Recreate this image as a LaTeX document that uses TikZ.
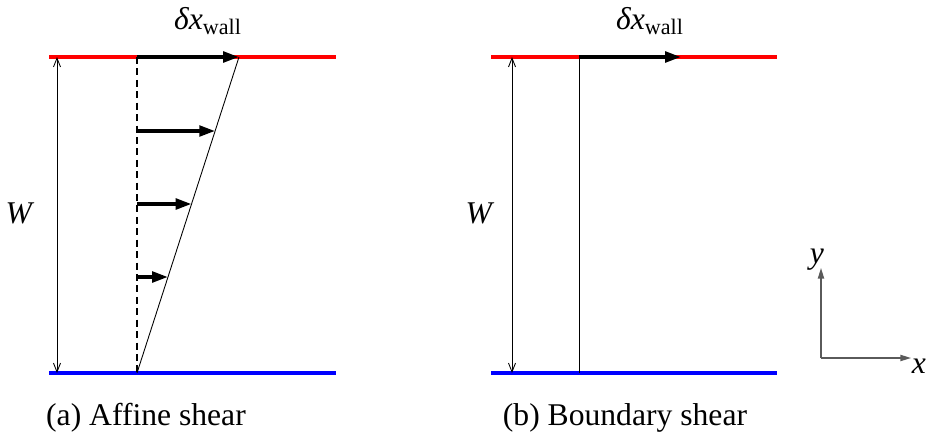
\documentclass[tikz,border=0pt]{standalone}
\usepackage{fontspec}
\setmainfont{Liberation Serif}
\usetikzlibrary{arrows.meta,positioning,calc}
\definecolor{wallred}{RGB}{255,0,0}
\definecolor{wallblue}{RGB}{0,0,255}
\definecolor{axisgray}{RGB}{90,90,90}
\newcommand{\shiftlabel}{\textit{δx}\textsubscript{wall}}

\begin{document}
\begin{tikzpicture}[
    x=0.02cm, y=-0.02cm,
    every node/.style={font=\fontsize{18}{22}\selectfont},
    wall/.style={line width=2pt},
    shiftarrow/.style={-{Triangle[length=9pt,width=6pt]}, line width=2pt},
    gap/.style={{Straight Barb[length=5pt,width=4pt]}-{Straight Barb[length=5pt,width=4pt]}, line width=0.5pt},
    axisline/.style={-{Triangle[length=6pt,width=3.5pt]}, line width=0.8pt, axisgray}
]
\useasboundingbox (0,0) rectangle (927,443);

% (a) Affine shear
\draw[wall, wallred]  (49,57)  -- (336,57);
\draw[wall, wallblue] (49,373) -- (336,373);
\coordinate (aTop) at (57,57);
\coordinate (aBot) at (57,373);
\draw[gap] (aTop) -- (aBot);
\node (aW) at (20,213) {\textit{W}};
\coordinate (aBase) at (137,373);
\coordinate (aOrig) at (137,57);
\coordinate (aTip) at (239,57);
\draw[dashed, dash pattern=on 4pt off 2.5pt, line width=0.8pt] (aOrig) -- (aBase);
\draw[line width=0.5pt] (aBase) -- (aTip);
\draw[shiftarrow] (aOrig) -- (aTip);
\foreach \yy in {131,204,277} {
    \draw[shiftarrow] (137,\yy) -- ($(aBase)!{(373-\yy)/316}!(aTip)$);
}
\node (aShift) at (208,21) {\shiftlabel};
\node (aCap) at (146,418) {(a) Affine shear};

% (b) Boundary shear
\draw[wall, wallred]  (491,57)  -- (777,57);
\draw[wall, wallblue] (491,373) -- (777,373);
\coordinate (bTop) at (512,57);
\coordinate (bBot) at (512,373);
\draw[gap] (bTop) -- (bBot);
\node (bW) at (480,213) {\textit{W}};
\coordinate (bBase) at (579,373);
\coordinate (bOrig) at (579,57);
\coordinate (bTip) at (681,57);
\draw[line width=0.5pt] (bOrig) -- (bBase);
\draw[shiftarrow] (bOrig) -- (bTip);
\node (bShift) at (650,21) {\shiftlabel};
\node (bCap) at (625,418) {(b) Boundary shear};

% axes
\coordinate (origin) at (821,358);
\coordinate (yEnd) at (821,268);
\coordinate (xEnd) at (911,358);
\draw[axisline] (origin) -- (yEnd);
\draw[axisline] (origin) -- (xEnd);
\node (yLab) at (817,260) {\textit{y}};
\node (xLab) at (919,366) {\textit{x}};
\end{tikzpicture}
\end{document}
